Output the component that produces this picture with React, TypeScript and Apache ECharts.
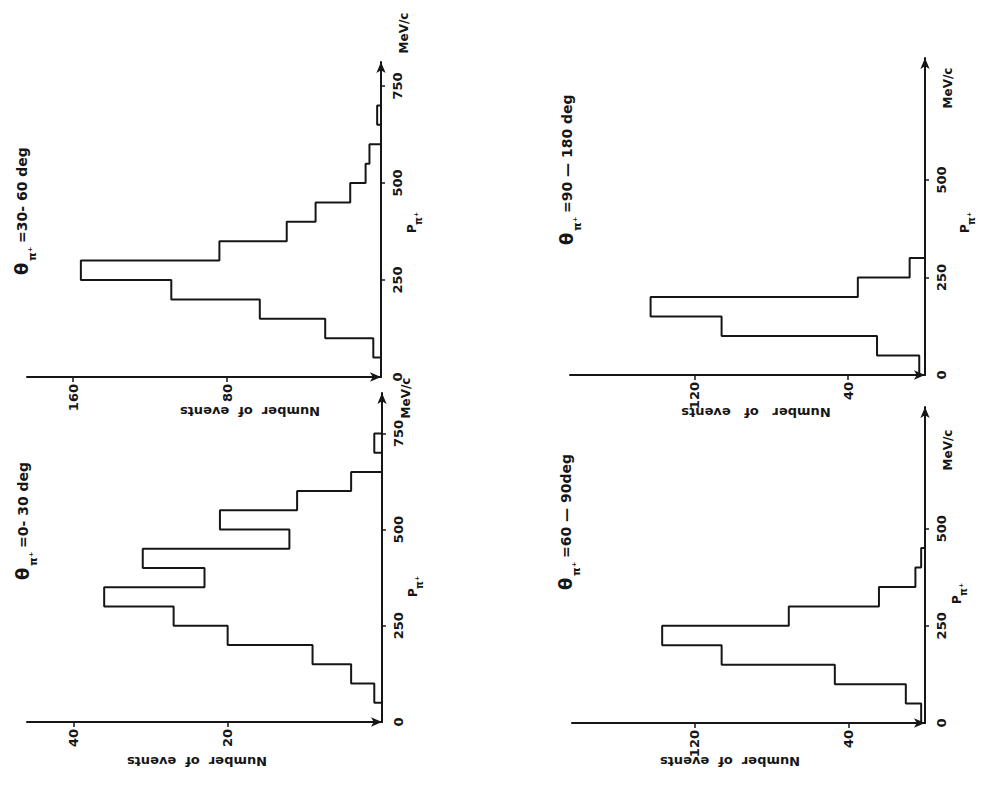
import React, { useEffect, useRef } from "react";
import * as echarts from "echarts";

// Momentum bins are 50 MeV/c wide, starting at 0.
const P_BIN_WIDTH = 50;

// Number of events per momentum bin for each angular range of the pion.
const countsTheta0to30 = [0, 1, 4, 9, 20, 27, 36, 23, 31, 12, 21, 11, 4, 0, 1];
const countsTheta30to60 = [0, 4, 29, 63, 109, 156, 84, 49, 34, 16, 8, 6, 0, 2];
const countsTheta60to90 = [2, 10, 47, 106, 137, 71, 24, 5, 2];
const countsTheta90to180 = [3, 25, 106, 143, 35, 8];

// Tick labels.
const momentumTicksLong = [0, 250, 500, 750];
const momentumTicksShort = [0, 250, 500];
const eventTicks0to30 = [20, 40];
const eventTicks30to60 = [80, 160];
const eventTicksWide = [40, 120];

const angleLabels = ["=0- 30 deg", "=30- 60 deg", "=60 \u2014 90deg", "=90 \u2014 180 deg"];

const INK = "#161616";
const FONT = "'DejaVu Sans', 'Liberation Sans', sans-serif";

function staircase(counts: number[]): number[][] {
  const pts: number[][] = [[0, 0]];
  counts.forEach((c, i) => {
    pts.push([c, i * P_BIN_WIDTH], [c, (i + 1) * P_BIN_WIDTH]);
  });
  pts.push([0, counts.length * P_BIN_WIDTH]);
  return pts;
}

type Panel = {
  counts: number[];
  grid: { left: number; top: number; width: number; height: number };
  xMax: number;
  yMax: number;
  eventTicks: number[];
  momentumTicks: number[];
  angle: string;
  titleAt: [number, number];
  nameAt: [number, number];
  nameText: string;
  unitAt: [number, number];
  pLabelAt: [number, number];
};

const panels: Panel[] = [
  {
    counts: countsTheta30to60,
    grid: { left: 27, top: 62, width: 354, height: 315 },
    xMax: 184,
    yMax: 812,
    eventTicks: eventTicks30to60,
    momentumTicks: momentumTicksLong,
    angle: angleLabels[1],
    titleAt: [21, 275],
    nameAt: [250, 411],
    nameText: "Number  of  events",
    unitAt: [404, 33],
    pLabelAt: [412, 233],
  },
  {
    counts: countsTheta90to180,
    grid: { left: 570, top: 58, width: 355, height: 317 },
    xMax: 185,
    yMax: 813,
    eventTicks: eventTicksWide,
    momentumTicks: momentumTicksShort,
    angle: angleLabels[3],
    titleAt: [566, 245],
    nameAt: [756, 412],
    nameText: "Number   of   events",
    unitAt: [948, 88],
    pLabelAt: [965, 233],
  },
  {
    counts: countsTheta0to30,
    grid: { left: 27, top: 393, width: 355, height: 329 },
    xMax: 46,
    yMax: 855,
    eventTicks: eventTicks0to30,
    momentumTicks: momentumTicksLong,
    angle: angleLabels[0],
    titleAt: [22, 580],
    nameAt: [197, 761],
    nameText: "Number  of  events",
    unitAt: [406, 398],
    pLabelAt: [413, 597],
  },
  {
    counts: countsTheta60to90,
    grid: { left: 572, top: 407, width: 353, height: 316 },
    xMax: 184,
    yMax: 813,
    eventTicks: eventTicksWide,
    momentumTicks: momentumTicksShort,
    angle: angleLabels[2],
    titleAt: [565, 590],
    nameAt: [730, 761],
    nameText: "Number  of  events",
    unitAt: [948, 450],
    pLabelAt: [957, 604],
  },
];

function angleTitle(at: [number, number], rest: string) {
  return {
    type: "group",
    x: at[0],
    y: at[1],
    rotation: Math.PI / 2,
    children: [
      {
        type: "text",
        x: 0,
        y: 0,
        style: { text: "\u03b8", font: `bold 18px ${FONT}`, fill: INK, align: "left", verticalAlign: "middle" },
      },
      {
        type: "text",
        x: 14,
        y: 11,
        style: { text: "\u03c0\u207a", font: `bold 11px ${FONT}`, fill: INK, align: "left", verticalAlign: "middle" },
      },
      {
        type: "text",
        x: 32,
        y: 1,
        style: { text: rest, font: `bold 14px ${FONT}`, fill: INK, align: "left", verticalAlign: "middle" },
      },
    ],
  };
}

function momentumName(at: [number, number]) {
  return {
    type: "group",
    x: at[0],
    y: at[1],
    rotation: Math.PI / 2,
    children: [
      {
        type: "text",
        x: 0,
        y: 0,
        style: { text: "P", font: `bold 12px ${FONT}`, fill: INK, align: "left", verticalAlign: "middle" },
      },
      {
        type: "text",
        x: 8,
        y: 6,
        style: { text: "\u03c0\u207a", font: `bold 10px ${FONT}`, fill: INK, align: "left", verticalAlign: "middle" },
      },
    ],
  };
}

export default function App() {
  const ref = useRef<HTMLDivElement>(null);

  useEffect(() => {
    document.body.style.margin = "0";
    if (!ref.current) return;
    const chart = echarts.init(ref.current, null, { renderer: "svg" });

    const axisLine = () => ({
      show: true,
      onZero: false,
      symbol: ["none", "arrow"],
      symbolSize: [7, 11],
      lineStyle: { color: INK, width: 2 },
    });

    const labelStyle = {
      color: INK,
      fontSize: 13,
      fontWeight: "bold",
      fontFamily: FONT,
    };

    const option: any = {
      animation: false,
      backgroundColor: "#ffffff",
      grid: panels.map((p) => ({ ...p.grid, containLabel: false })),
      xAxis: panels.map((p, i) => ({
        type: "value",
        gridIndex: i,
        inverse: true,
        min: 0,
        max: p.xMax,
        position: "bottom",
        axisLine: axisLine(),
        axisTick: {
          show: true,
          length: 5,
          customValues: p.eventTicks,
          lineStyle: { color: INK, width: 1.5 },
        },
        axisLabel: {
          show: true,
          customValues: p.eventTicks,
          rotate: 90,
          margin: 7,
          ...labelStyle,
        },
        splitLine: { show: false },
      })),
      yAxis: panels.map((p, i) => ({
        type: "value",
        gridIndex: i,
        position: "right",
        min: 0,
        max: p.yMax,
        axisLine: axisLine(),
        axisTick: {
          show: true,
          length: 4,
          customValues: p.momentumTicks.filter((v) => v > 0),
          lineStyle: { color: INK, width: 1.5 },
        },
        axisLabel: {
          show: true,
          customValues: p.momentumTicks,
          rotate: 90,
          margin: 10,
          ...labelStyle,
        },
        splitLine: { show: false },
      })),
      series: panels.map((p, i) => ({
        type: "line",
        xAxisIndex: i,
        yAxisIndex: i,
        data: staircase(p.counts),
        symbol: "none",
        silent: true,
        clip: false,
        lineStyle: { color: INK, width: 2 },
        z: 3,
      })),
      graphic: [
        ...panels.map((p) => angleTitle(p.titleAt, p.angle)),
        ...panels.map((p) => momentumName(p.pLabelAt)),
        ...panels.map((p) => ({
          type: "text",
          x: p.nameAt[0],
          y: p.nameAt[1],
          rotation: Math.PI,
          style: {
            text: p.nameText,
            font: `bold 13px ${FONT}`,
            fill: INK,
            align: "center",
            verticalAlign: "middle",
          },
        })),
        ...panels.map((p) => ({
          type: "text",
          x: p.unitAt[0],
          y: p.unitAt[1],
          rotation: Math.PI / 2,
          style: {
            text: "MeV/c",
            font: `bold 12px ${FONT}`,
            fill: INK,
            align: "center",
            verticalAlign: "middle",
          },
        })),
      ],
    };

    chart.setOption(option);
    return () => chart.dispose();
  }, []);

  return <div ref={ref} style={{ width: 985, height: 787 }} />;
}
